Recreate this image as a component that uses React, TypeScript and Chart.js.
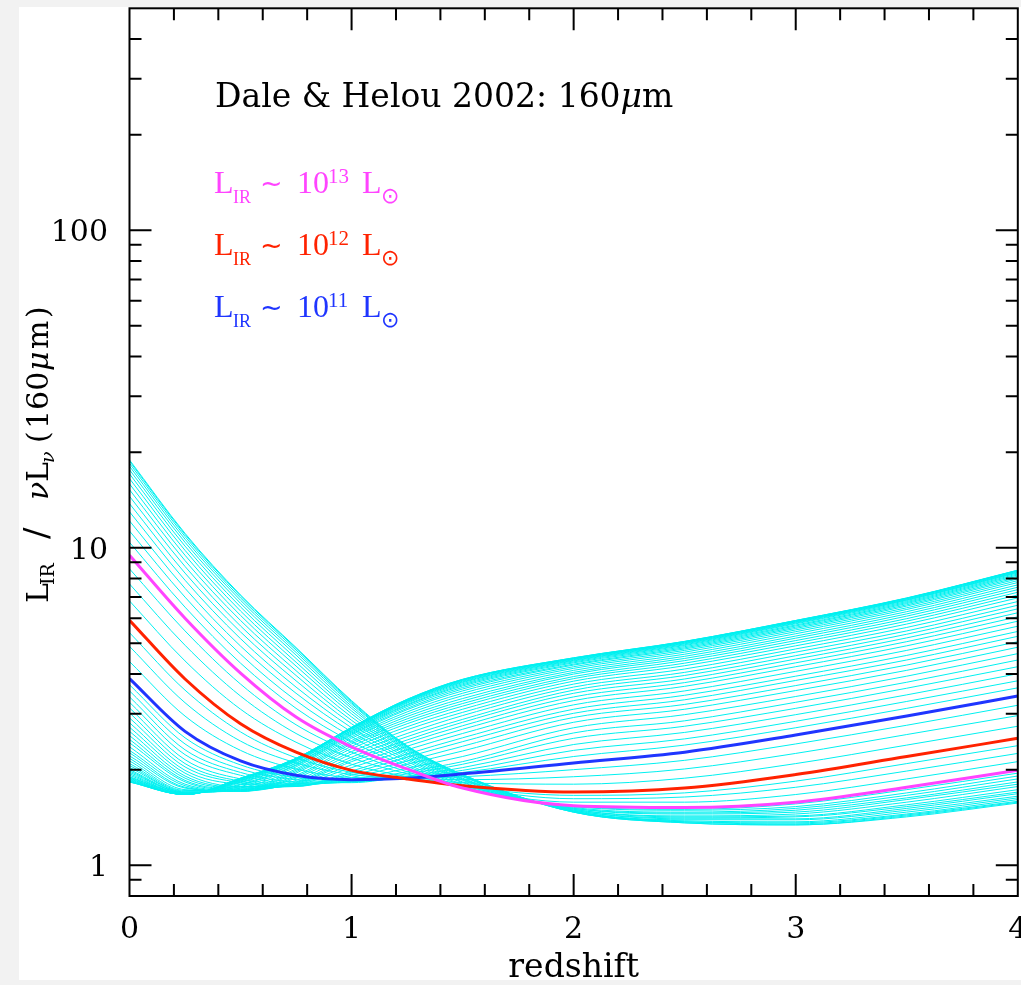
import React, { useEffect, useRef } from "react";
import { Chart, registerables } from "chart.js";

Chart.register(...registerables);

// ---------------- data ----------------
const redshift = [0, 0.25, 0.5, 0.75, 1, 1.25, 1.5, 2, 2.5, 3, 3.5, 4];

// L_IR ~ 10^13, 10^12, 10^11 Lsun templates (highlighted)
const curve1e13 = [9.47, 6.0, 4.03, 2.93, 2.36, 2.01, 1.75, 1.54, 1.52, 1.58, 1.76, 1.99];
const curve1e12 = [5.91, 3.86, 2.79, 2.27, 1.99, 1.87, 1.78, 1.7, 1.75, 1.93, 2.2, 2.51];
const curve1e11 = [3.87, 2.64, 2.13, 1.92, 1.86, 1.88, 1.94, 2.1, 2.27, 2.57, 2.95, 3.41];

// hottest templates (above the 10^13 curve at z = 0)
const hotCurves = [
  [18.9, 11.1, 7.1, 4.85, 3.3, 2.38, 1.93, 1.47, 1.36, 1.34, 1.42, 1.57],
  [18.74, 11.01, 7.05, 4.82, 3.28, 2.37, 1.93, 1.47, 1.36, 1.34, 1.43, 1.58],
  [18.44, 10.85, 6.95, 4.76, 3.25, 2.36, 1.92, 1.47, 1.37, 1.35, 1.44, 1.59],
  [18.06, 10.64, 6.83, 4.68, 3.22, 2.35, 1.91, 1.48, 1.37, 1.36, 1.45, 1.61],
  [17.6, 10.4, 6.68, 4.59, 3.17, 2.33, 1.91, 1.48, 1.38, 1.37, 1.47, 1.63],
  [17.09, 10.12, 6.51, 4.48, 3.12, 2.31, 1.9, 1.48, 1.39, 1.39, 1.49, 1.65],
  [16.51, 9.81, 6.32, 4.36, 3.06, 2.29, 1.88, 1.49, 1.4, 1.4, 1.51, 1.68],
  [15.89, 9.47, 6.12, 4.24, 3.0, 2.26, 1.87, 1.49, 1.41, 1.42, 1.53, 1.7],
  [15.23, 9.11, 5.9, 4.1, 2.93, 2.24, 1.86, 1.5, 1.42, 1.43, 1.55, 1.73],
  [14.52, 8.73, 5.67, 3.96, 2.86, 2.21, 1.85, 1.5, 1.43, 1.45, 1.58, 1.77],
  [13.77, 8.32, 5.43, 3.81, 2.79, 2.18, 1.83, 1.51, 1.45, 1.47, 1.61, 1.8],
  [12.98, 7.9, 5.17, 3.64, 2.71, 2.15, 1.82, 1.51, 1.46, 1.49, 1.63, 1.83],
  [12.15, 7.45, 4.9, 3.48, 2.63, 2.12, 1.8, 1.52, 1.47, 1.51, 1.66, 1.87],
  [11.29, 6.99, 4.62, 3.3, 2.54, 2.08, 1.79, 1.53, 1.49, 1.53, 1.69, 1.91],
  [10.4, 6.5, 4.33, 3.12, 2.45, 2.05, 1.77, 1.53, 1.5, 1.56, 1.73, 1.95],
];

// between the 10^13 and 10^12 curves
const upperMidCurves = [
  [8.58, 5.47, 3.72, 2.77, 2.27, 1.97, 1.76, 1.58, 1.58, 1.67, 1.87, 2.12],
  [7.69, 4.93, 3.41, 2.6, 2.18, 1.94, 1.77, 1.62, 1.64, 1.76, 1.98, 2.25],
  [6.8, 4.4, 3.1, 2.44, 2.08, 1.9, 1.77, 1.66, 1.69, 1.84, 2.09, 2.38],
];

// between the 10^12 and 10^11 curves
const lowerMidCurves = [
  [5.4, 3.56, 2.63, 2.18, 1.96, 1.87, 1.82, 1.8, 1.88, 2.09, 2.39, 2.74],
  [4.89, 3.25, 2.46, 2.1, 1.93, 1.88, 1.86, 1.9, 2.01, 2.25, 2.58, 2.96],
  [4.38, 2.95, 2.3, 2.01, 1.89, 1.88, 1.9, 2.0, 2.14, 2.41, 2.76, 3.19],
];

// coldest templates (below the 10^11 curve at z = 0)
const coldCurves = [
  [3.7, 2.52, 2.07, 1.89, 1.84, 1.89, 1.96, 2.2, 2.39, 2.71, 3.12, 3.62],
  [3.54, 2.41, 2.01, 1.86, 1.83, 1.9, 1.99, 2.3, 2.5, 2.84, 3.28, 3.81],
  [3.39, 2.31, 1.96, 1.83, 1.82, 1.91, 2.03, 2.4, 2.62, 2.98, 3.44, 4.01],
  [3.26, 2.23, 1.92, 1.81, 1.83, 1.94, 2.08, 2.51, 2.74, 3.12, 3.61, 4.22],
  [3.13, 2.15, 1.87, 1.8, 1.84, 1.97, 2.12, 2.61, 2.85, 3.26, 3.77, 4.43],
  [3.02, 2.09, 1.84, 1.79, 1.86, 2.02, 2.2, 2.71, 2.98, 3.4, 3.94, 4.64],
  [2.91, 2.04, 1.82, 1.78, 1.89, 2.08, 2.29, 2.82, 3.1, 3.55, 4.11, 4.86],
  [2.81, 1.99, 1.8, 1.78, 1.92, 2.13, 2.37, 2.92, 3.21, 3.68, 4.27, 5.06],
  [2.72, 1.95, 1.77, 1.77, 1.95, 2.19, 2.45, 3.01, 3.32, 3.82, 4.43, 5.26],
  [2.64, 1.91, 1.76, 1.77, 1.98, 2.24, 2.52, 3.1, 3.43, 3.94, 4.58, 5.45],
  [2.56, 1.88, 1.75, 1.79, 2.03, 2.31, 2.6, 3.2, 3.54, 4.08, 4.75, 5.66],
  [2.49, 1.85, 1.74, 1.8, 2.07, 2.37, 2.68, 3.3, 3.66, 4.22, 4.91, 5.87],
  [2.43, 1.83, 1.73, 1.81, 2.12, 2.43, 2.75, 3.39, 3.76, 4.34, 5.06, 6.06],
  [2.36, 1.8, 1.72, 1.82, 2.15, 2.48, 2.82, 3.48, 3.86, 4.46, 5.2, 6.24],
  [2.3, 1.78, 1.71, 1.83, 2.19, 2.54, 2.88, 3.56, 3.96, 4.57, 5.34, 6.42],
  [2.26, 1.76, 1.71, 1.85, 2.24, 2.6, 2.96, 3.64, 4.05, 4.69, 5.47, 6.59],
  [2.21, 1.75, 1.71, 1.88, 2.28, 2.67, 3.03, 3.72, 4.15, 4.8, 5.61, 6.77],
  [2.17, 1.73, 1.71, 1.9, 2.33, 2.73, 3.1, 3.8, 4.25, 4.91, 5.75, 6.95],
  [2.13, 1.72, 1.72, 1.92, 2.37, 2.79, 3.17, 3.87, 4.33, 5.01, 5.87, 7.1],
  [2.09, 1.71, 1.72, 1.95, 2.41, 2.84, 3.23, 3.93, 4.41, 5.1, 5.98, 7.24],
  [2.06, 1.7, 1.72, 1.97, 2.44, 2.89, 3.29, 4.0, 4.48, 5.19, 6.09, 7.38],
  [2.03, 1.7, 1.73, 1.99, 2.47, 2.94, 3.35, 4.05, 4.55, 5.27, 6.19, 7.51],
  [2.0, 1.69, 1.75, 2.01, 2.51, 2.99, 3.42, 4.11, 4.62, 5.36, 6.29, 7.64],
  [1.98, 1.69, 1.77, 2.04, 2.54, 3.04, 3.48, 4.17, 4.69, 5.44, 6.39, 7.77],
  [1.96, 1.69, 1.79, 2.06, 2.57, 3.09, 3.54, 4.22, 4.75, 5.51, 6.47, 7.88],
  [1.94, 1.68, 1.8, 2.07, 2.59, 3.12, 3.59, 4.27, 4.8, 5.57, 6.55, 7.98],
  [1.92, 1.68, 1.82, 2.09, 2.61, 3.16, 3.63, 4.3, 4.84, 5.62, 6.61, 8.06],
  [1.9, 1.68, 1.83, 2.1, 2.63, 3.19, 3.67, 4.34, 4.88, 5.67, 6.67, 8.14],
  [1.89, 1.68, 1.84, 2.12, 2.65, 3.21, 3.7, 4.37, 4.92, 5.71, 6.72, 8.21],
  [1.88, 1.67, 1.85, 2.13, 2.66, 3.24, 3.73, 4.4, 4.95, 5.76, 6.77, 8.27],
  [1.87, 1.67, 1.85, 2.14, 2.68, 3.26, 3.76, 4.42, 4.98, 5.79, 6.82, 8.33],
  [1.86, 1.67, 1.86, 2.15, 2.69, 3.28, 3.78, 4.44, 5.0, 5.82, 6.85, 8.37],
  [1.85, 1.67, 1.87, 2.15, 2.7, 3.29, 3.8, 4.46, 5.02, 5.84, 6.87, 8.4],
  [1.84, 1.67, 1.87, 2.16, 2.7, 3.3, 3.82, 4.47, 5.04, 5.86, 6.9, 8.44],
  [1.84, 1.67, 1.87, 2.16, 2.71, 3.31, 3.83, 4.48, 5.05, 5.87, 6.92, 8.46],
  [1.83, 1.67, 1.88, 2.17, 2.71, 3.32, 3.84, 4.49, 5.06, 5.89, 6.93, 8.48],
  [1.83, 1.67, 1.88, 2.17, 2.72, 3.33, 3.85, 4.5, 5.07, 5.9, 6.94, 8.49],
  [1.83, 1.67, 1.88, 2.17, 2.72, 3.33, 3.85, 4.5, 5.07, 5.9, 6.95, 8.5],
];

const xTickLabels = [0, 1, 2, 3, 4];
const yTickLabels = [1, 10, 100];
const legendExponents = ["13", "12", "11"];

// ---------------- styles ----------------
const CYAN = "#00f0f0";
const MAGENTA = "#ff44ff";
const RED = "#ff2200";
const BLUE = "#1f35ff";

const toPoints = (vals: number[]) => vals.map((v, i) => ({ x: redshift[i], y: v }));

const decorPlugin = {
  id: "decor",
  afterDraw(chart: any) {
    const { ctx, chartArea: a, scales } = chart;
    const xs = scales.x;
    const ys = scales.y;
    ctx.save();
    ctx.strokeStyle = "#000";
    ctx.fillStyle = "#000";
    ctx.lineWidth = 2;
    ctx.lineCap = "butt";
    ctx.strokeRect(a.left, a.top, a.right - a.left, a.bottom - a.top);

    const MAJ = 22;
    const MIN = 12;
    ctx.beginPath();
    for (let k = 1; k < 20; k++) {
      const px = xs.getPixelForValue(k * 0.2);
      const len = k % 5 === 0 ? MAJ : MIN;
      ctx.moveTo(px, a.bottom);
      ctx.lineTo(px, a.bottom - len);
      ctx.moveTo(px, a.top);
      ctx.lineTo(px, a.top + len);
    }
    const yMin = ys.min;
    const yMax = ys.max;
    for (let d = -1; d <= 2; d++) {
      for (let m = 1; m <= 9; m++) {
        const v = m * Math.pow(10, d);
        if (v <= yMin * 1.001 || v >= yMax * 0.999) continue;
        const py = ys.getPixelForValue(v);
        const len = m === 1 ? MAJ : MIN;
        ctx.moveTo(a.left, py);
        ctx.lineTo(a.left + len, py);
        ctx.moveTo(a.right, py);
        ctx.lineTo(a.right - len, py);
      }
    }
    ctx.stroke();

    // tick labels
    ctx.font = '30px "DejaVu Serif"';
    ctx.textBaseline = "alphabetic";
    ctx.textAlign = "center";
    xTickLabels.forEach((v) => {
      ctx.fillText(String(v), xs.getPixelForValue(v), 938);
    });
    ctx.textAlign = "right";
    yTickLabels.forEach((v) => {
      ctx.fillText(String(v), 108, ys.getPixelForValue(v) + 11);
    });

    // x axis title
    ctx.textAlign = "center";
    ctx.font = '33px "DejaVu Serif"';
    ctx.fillText("redshift", xs.getPixelForValue(2), 977);

    // y axis title (rotated)
    ctx.save();
    ctx.translate(48, 603);
    ctx.rotate(-Math.PI / 2);
    ctx.textAlign = "left";
    const main = '30px "DejaVu Serif"';
    const sub = '19px "DejaVu Serif"';
    const it = 'italic 30px "DejaVu Serif"';
    const itSub = 'italic 19px "DejaVu Serif"';
    ctx.font = main;
    ctx.fillText("L", 0, 0);
    ctx.font = sub;
    ctx.fillText("IR", 18, 6);
    ctx.font = '34px "DejaVu Serif"';
    ctx.fillText("/", 64, 0);
    ctx.font = it;
    ctx.fillText("ν", 103, 0);
    ctx.font = main;
    ctx.fillText("L", 121, 0);
    ctx.font = itSub;
    ctx.fillText("ν", 140, 6);
    ctx.font = main;
    ctx.fillText("(", 160, 0);
    ctx.fillText("160", 174, 0);
    ctx.font = it;
    ctx.fillText("μ", 232, 0);
    ctx.font = main;
    ctx.fillText("m", 254, 0);
    ctx.fillText(")", 285, 0);
    ctx.restore();

    // title
    ctx.textAlign = "left";
    ctx.font = '33px "DejaVu Serif"';
    const t1 = "Dale & Helou 2002: 160";
    ctx.fillText(t1, 215, 107);
    const w1 = ctx.measureText(t1).width;
    ctx.font = 'italic 33px "DejaVu Serif"';
    ctx.fillText("μ", 215 + w1, 107);
    const w2 = ctx.measureText("μ").width;
    ctx.font = '33px "DejaVu Serif"';
    ctx.fillText("m", 215 + w1 + w2, 107);

    // legend
    const colors = [MAGENTA, RED, BLUE];
    const bases = [193, 255, 317];
    legendExponents.forEach((exp, i) => {
      const b = bases[i];
      ctx.fillStyle = colors[i];
      ctx.font = '32px "Liberation Serif"';
      ctx.fillText("L", 214, b);
      ctx.font = '18px "Liberation Serif"';
      ctx.fillText("IR", 233, b + 10);
      ctx.font = '27px "DejaVu Sans"';
      ctx.fillText("~", 260, b - 1);
      ctx.font = '32px "Liberation Serif"';
      ctx.fillText("10", 297, b);
      ctx.font = '21px "Liberation Serif"';
      ctx.fillText(exp, 328, b - 10);
      ctx.font = '32px "Liberation Serif"';
      ctx.fillText("L", 362, b);
      ctx.font = '22px "DejaVu Sans"';
      ctx.fillText("⊙", 381, b + 10);
    });
    ctx.restore();
  },
};

export default function App() {
  const ref = useRef<HTMLCanvasElement>(null);

  useEffect(() => {
    if (!ref.current) return;
    const cyanAll = [...hotCurves, ...upperMidCurves, ...lowerMidCurves, ...coldCurves];
    const highlight = [
      { vals: curve1e13, color: MAGENTA },
      { vals: curve1e12, color: RED },
      { vals: curve1e11, color: BLUE },
    ];
    const datasets: any[] = [
      ...highlight.map((h) => ({
        data: toPoints(h.vals),
        borderColor: h.color,
        borderWidth: 3,
        pointRadius: 0,
        fill: false,
        cubicInterpolationMode: "monotone",
      })),
      ...cyanAll.map((c) => ({
        data: toPoints(c),
        borderColor: CYAN,
        borderWidth: 1,
        pointRadius: 0,
        fill: false,
        cubicInterpolationMode: "monotone",
      })),
    ];

    const chart = new Chart(ref.current, {
      type: "line",
      data: { datasets },
      options: {
        animation: false,
        responsive: false,
        devicePixelRatio: 1,
        events: [],
        layout: { padding: { top: 8.3, right: 3.2, left: 0, bottom: 0 } },
        plugins: { legend: { display: false }, tooltip: { enabled: false }, title: { display: false } },
        scales: {
          x: {
            type: "linear",
            min: 0,
            max: 4,
            grid: { display: false },
            border: { display: false },
            ticks: { display: false },
            afterFit: (s: any) => {
              s.height = 89;
            },
          },
          y: {
            type: "logarithmic",
            min: 0.8,
            max: 500,
            grid: { display: false },
            border: { display: false },
            ticks: { display: false },
            afterFit: (s: any) => {
              s.width = 129.5;
            },
          },
        },
      } as any,
      plugins: [decorPlugin],
    });
    return () => chart.destroy();
  }, []);

  return (
    <div
      style={{
        position: "fixed",
        left: 0,
        top: 0,
        width: 1021,
        height: 985,
        background: "#f2f2f2",
        overflow: "hidden",
      }}
    >
      <div style={{ position: "absolute", left: 19, top: 7, width: 1002, height: 973, background: "#ffffff" }} />
      <canvas
        ref={ref}
        width={1021}
        height={985}
        style={{ position: "absolute", left: 0, top: 0, width: 1021, height: 985 }}
      />
    </div>
  );
}
